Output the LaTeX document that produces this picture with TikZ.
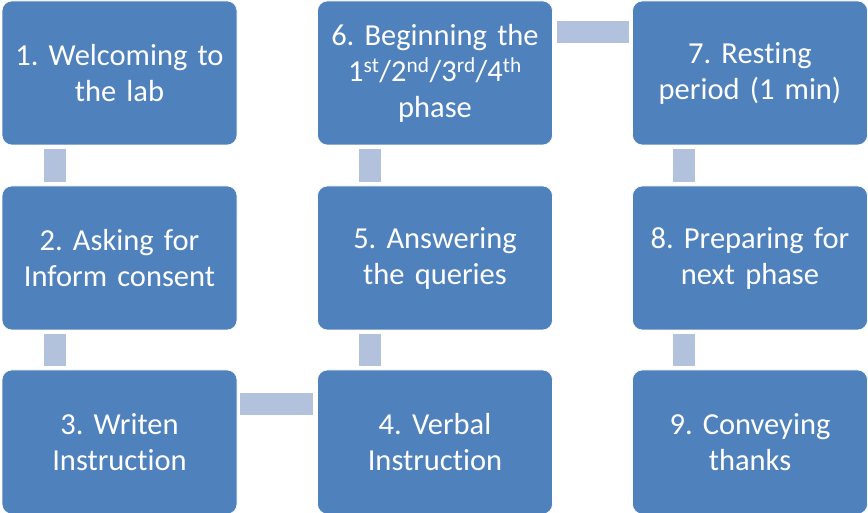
\documentclass[tikz,border=0pt]{standalone}
\usepackage{fontspec}
\setmainfont{Carlito}[RawFeature={-liga;-clig;-calt}]
\frenchspacing
\usetikzlibrary{calc}
\definecolor{boxblue}{HTML}{4F81BD}
\definecolor{barblue}{HTML}{B2C2DD}
\tikzset{
  stepbox/.style={rectangle, rounded corners=10pt, fill=boxblue, draw=white, line width=0.6pt,
    minimum width=235pt, minimum height=144pt, text width=230pt, align=center,
    text=white, font=\fontsize{30.5}{36}\selectfont, inner sep=0pt},
  bar/.style={fill=barblue}
}
\begin{document}
\begin{tikzpicture}[x=1pt,y=1pt]
\useasboundingbox (0,0) rectangle (868,513);
\node[stepbox] (n1) at (119.5,440) {1. Welcoming to\\the lab};
\node[stepbox] (n2) at (119.5,255) {2. Asking for\\Inform consent};
\node[stepbox] (n3) at (119.5,71) {3. Writen\\Instruction};
\node[stepbox] (n4) at (435,71) {4. Verbal\\Instruction};
\node[stepbox] (n5) at (435,255) {5. Answering\\the queries};
\node[stepbox] (n6) at (435,440) {6. Beginning the\\1\textsuperscript{st}/2\textsuperscript{nd}/3\textsuperscript{rd}/4\textsuperscript{th}\\phase};
\node[stepbox] (n7) at (750,440) {7. Resting\\period (1 min)};
\node[stepbox] (n8) at (750,255) {8. Preparing for\\next phase};
\node[stepbox] (n9) at (750,71) {9. Conveying\\thanks};
% vertical bars
\fill[bar] ($(n1.south west)+(42,-4)$) rectangle ($(n2.north west)+(64,4)$);
\fill[bar] ($(n2.south west)+(42,-4)$) rectangle ($(n3.north west)+(64,4)$);
\fill[bar] ($(n4.north west)+(42,4)$) rectangle ($(n5.south west)+(64,-4)$);
\fill[bar] ($(n5.north west)+(42,4)$) rectangle ($(n6.south west)+(64,-4)$);
\fill[bar] ($(n7.south west)+(41,-4)$) rectangle ($(n8.north west)+(63,4)$);
\fill[bar] ($(n8.south west)+(41,-4)$) rectangle ($(n9.north west)+(63,4)$);
% horizontal bars
\fill[bar] ($(n3.north east)+(3,-23)$) rectangle ($(n4.north west)+(-4,-45)$);
\fill[bar] ($(n6.north east)+(4,-20)$) rectangle ($(n7.north west)+(-3,-42)$);
\end{tikzpicture}
\end{document}
